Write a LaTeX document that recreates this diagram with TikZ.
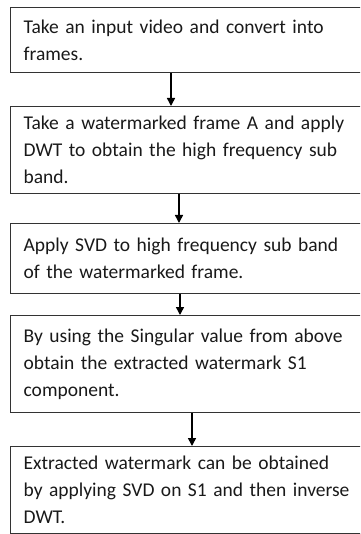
\documentclass[tikz,border=0pt]{standalone}
\usepackage{fontspec}
\setmainfont{Carlito}
\usetikzlibrary{arrows.meta}
\begin{document}
\begin{tikzpicture}[x=1pt,y=-1pt,
  stepbox/.style={draw=black!80, line width=1.3pt, rectangle, anchor=north west,
    minimum width=356pt, inner xsep=13pt, inner ysep=0pt, text width=335pt,
    align=left, font=\fontsize{19.5}{27}\selectfont, text=black!90},
  flow/.style={line width=1.5pt, -{Triangle[width=8pt,length=8pt]}}]
\useasboundingbox (0,0) rectangle (360,534);
\clip (0,0) rectangle (360,534);
\node[stepbox, minimum height=65pt] (s1) at (10,7)
  {Take an input video and convert into\\frames.};
\node[stepbox, minimum height=87pt] (s2) at (10,106)
  {Take a watermarked frame A and apply\\DWT to obtain the high frequency sub\\band.};
\node[stepbox, minimum height=70pt] (s3) at (10,223)
  {Apply SVD to high frequency sub band\\of the watermarked frame.};
\node[stepbox, minimum height=97pt] (s4) at (10,315)
  {By using the Singular value from above\\obtain the extracted watermark S1\\component.};
\node[stepbox, minimum height=87pt] (s5) at (10,446)
  {Extracted watermark can be obtained\\by applying SVD on S1 and then inverse\\DWT.};
\draw[flow] (s1.south west -| 171,0) -- (s2.north west -| 171,0);
\draw[flow] (s2.south west -| 179,0) -- (s3.north west -| 179,0);
\draw[flow] (s3.south west -| 180,0) -- (s4.north west -| 180,0);
\draw[flow] (s4.south west -| 192,0) -- (s5.north west -| 192,0);
\end{tikzpicture}
\end{document}
